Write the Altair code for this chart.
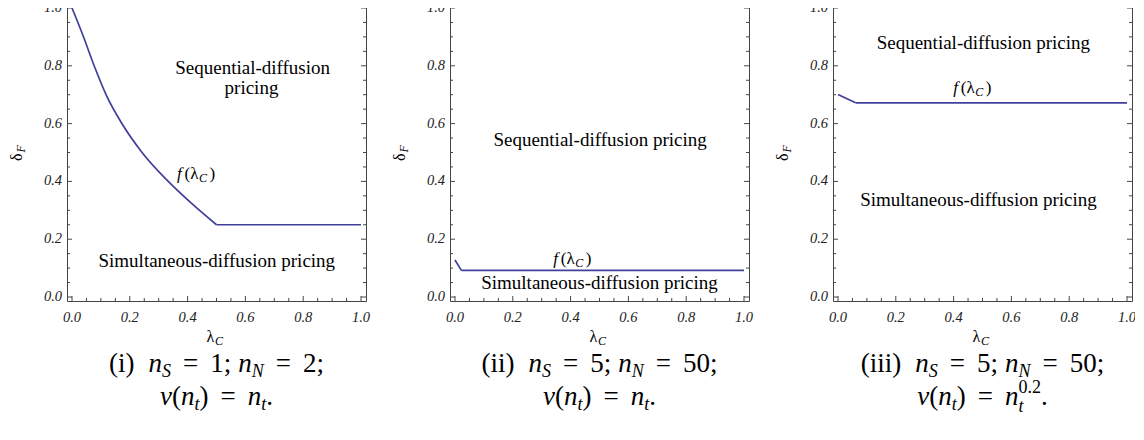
import altair as alt
import pandas as pd

# ---------------- data ----------------
lam1 = [0.0, 0.038, 0.076, 0.119, 0.171, 0.241, 0.327, 0.408, 0.5, 1.0]
del1 = [1.0, 0.905, 0.802, 0.698, 0.603, 0.502, 0.406, 0.329, 0.25, 0.25]
lam2 = [0.0, 0.022, 1.0]
del2 = [0.128, 0.092, 0.092]
lam3 = [0.0, 0.061, 1.0]
del3 = [0.701, 0.672, 0.672]

major_ticks = [0.0, 0.2, 0.4, 0.6, 0.8, 1.0]
tick_labels = ["0.0", "0.2", "0.4", "0.6", "0.8", "1.0"]
minor_ticks = [0.05, 0.1, 0.15, 0.25, 0.3, 0.35, 0.45, 0.5, 0.55, 0.65,
               0.7, 0.75, 0.85, 0.9, 0.95]

seq_label = "Sequential-diffusion"
seq_label2 = "pricing"
seq_full = "Sequential-diffusion pricing"
sim_full = "Simultaneous-diffusion pricing"

# region label anchors (data coordinates, text centre / baseline)
regions1 = [(seq_label, 0.625, 0.773), (seq_label2, 0.621, 0.703), (sim_full, 0.501, 0.104)]
regions2 = [(seq_full, 0.502, 0.522), (sim_full, 0.50, 0.027)]
regions3 = [(seq_full, 0.503, 0.857), (sim_full, 0.486, 0.315)]
flabel_pos = [(0.363, 0.408), (0.34, 0.115), (0.399, 0.707)]

caption_ids = ["(i)", "(ii)", "(iii)"]
caption_nS = ["1", "5", "5"]
caption_nN = ["2", "50", "50"]
caption_vexp = ["", "", "0.2"]

# ---------------- layout constants ----------------
W, H = 299, 298
XD = [-5 / 289, 1 + 5 / 289]
YD = [-4 / 289, 1 + 5 / 289]
SERIF = "Liberation Serif"
FRAME = "#444444"
LINE = "#40409c"
CAP = 27
CAPSUB = 18

RM = {' ': .25, '(': .333, ')': .333, ';': .278, '=': .564, '.': .25, 'i': .278,
      'λ': .5, 'δ': .5}
IT = {'n': .5, 'v': .444, 't': .278, 'f': .278, 'S': .5, 'N': .667, 'C': .667, 'F': .611}


def tw(s, style, size):
    tab = IT if style in ('it', 'sub') else RM
    return sum(tab.get(c, .5) for c in s) * size


def px2x(px):
    return XD[0] + px / W * (XD[1] - XD[0])


def py2y(py):
    return YD[1] - py / H * (YD[1] - YD[0])


GW, GR, GT = 14, 12, 7


def layout_line(tokens, base_y):
    rows = []
    x = 0.0
    last_sub_x = 0.0
    last_sub_w = 0.0
    for tok in tokens:
        if isinstance(tok, (int, float)):
            x += tok
            continue
        text, style = tok
        if style in ('rm', 'it'):
            rows.append(dict(t=text, s=style, px=x, py=base_y))
            x += tw(text, style, CAP)
        elif style == 'sub':
            rows.append(dict(t=text, s='sub', px=x, py=base_y + 5))
            last_sub_x = x
            last_sub_w = tw(text, 'sub', CAPSUB)
            x += last_sub_w
        elif style == 'subx':  # subscript that will carry a superscript
            rows.append(dict(t=text, s='sub', px=x, py=base_y + 7))
            last_sub_x = x
            last_sub_w = tw(text, 'sub', CAPSUB)
            x += last_sub_w
        elif style == 'sup':
            rows.append(dict(t=text, s='sup', px=last_sub_x, py=base_y - 12))
            w = tw(text, 'rm', CAPSUB)
            x = last_sub_x + max(w, last_sub_w)
    total = x
    for r in rows:
        r['px'] += W / 2 - total / 2
    return rows


def caption_rows(i):
    l1 = [(caption_ids[i], 'rm'), GW, ('n', 'it'), ('S', 'sub'), GR, ('=', 'rm'), GR,
          (caption_nS[i] + ';', 'rm'), GT, ('n', 'it'), ('N', 'sub'), GR, ('=', 'rm'), GR,
          (caption_nN[i] + ';', 'rm')]
    l2 = [('v', 'it'), ('(', 'rm'), ('n', 'it'), ('t', 'sub'), (')', 'rm'), GR, ('=', 'rm'), GR,
          ('n', 'it')]
    if caption_vexp[i]:
        l2 += [('t', 'subx'), (caption_vexp[i], 'sup')]
    else:
        l2 += [('t', 'sub')]
    l2 += [('.', 'rm')]
    return layout_line(l1, H + 71) + layout_line(l2, H + 104)


def title_rows():
    rows = []
    x0 = W / 2 - 10
    rows.append(dict(t='λ', s='tl', px=x0, py=H + 41))
    rows.append(dict(t='C', s='tsub', px=x0 + 8.5, py=H + 44))
    rows.append(dict(t='δ', s='tlr', px=-45, py=H / 2 + 9))
    rows.append(dict(t='F', s='tsubr', px=-42, py=H / 2 + 9 - 8.5))
    return rows


STYLES = {
    'rm': dict(fontSize=CAP, fontStyle='normal'),
    'it': dict(fontSize=CAP, fontStyle='italic'),
    'sub': dict(fontSize=CAPSUB, fontStyle='italic'),
    'sup': dict(fontSize=CAPSUB, fontStyle='normal'),
    'tl': dict(fontSize=16, fontStyle='normal'),
    'tsub': dict(fontSize=12, fontStyle='italic'),
    'tlr': dict(fontSize=16, fontStyle='normal', angle=270),
    'tsubr': dict(fontSize=12, fontStyle='italic', angle=270),
}


def panel(lam, dl, regions, idx):
    xs = alt.Scale(domain=XD, nice=False, zero=False)
    ys = alt.Scale(domain=YD, nice=False, zero=False)

    def X(f='x'):
        return alt.X(f + ':Q', scale=xs, axis=None)

    def Y(f='y'):
        return alt.Y(f + ':Q', scale=ys, axis=None)

    layers = []
    # inward frame ticks on all four sides
    for vals, L in [(major_ticks, 5), (minor_ticks, 3)]:
        d = pd.DataFrame({'x': vals, 'y': vals})
        base = alt.Chart(d).mark_rule(color=FRAME, strokeWidth=1)
        layers.append(base.encode(x=X(), y=alt.value(H), y2=alt.value(H - L)))
        layers.append(base.encode(x=X(), y=alt.value(0), y2=alt.value(L)))
        layers.append(base.encode(y=Y(), x=alt.value(0), x2=alt.value(L)))
        layers.append(base.encode(y=Y(), x=alt.value(W), x2=alt.value(W - L)))

    # tick labels
    tl = pd.DataFrame({'x': major_ticks, 'y': major_ticks, 't': tick_labels})
    lab = dict(font=SERIF, fontSize=14.5, fontStyle='italic', color='#222222')
    layers.append(alt.Chart(tl).mark_text(align='center', baseline='alphabetic', **lab)
                  .encode(x=X(), y=alt.value(H + 21), text='t:N'))
    layers.append(alt.Chart(tl).mark_text(align='right', baseline='middle', **lab)
                  .encode(y=Y(), x=alt.value(-5), text='t:N'))

    # the boundary f(lambda_C): a smooth falling part and the flat part after the kink
    kink = 1
    for j in range(1, len(dl)):
        if dl[j] == dl[-1]:
            kink = j
            break
    curve = pd.DataFrame({'x': lam[:kink + 1], 'y': dl[:kink + 1]})
    flat = pd.DataFrame({'x': lam[kink:], 'y': dl[kink:]})
    layers.append(alt.Chart(curve).mark_line(
        color=LINE, strokeWidth=1.7, interpolate='monotone').encode(x=X(), y=Y()))
    layers.append(alt.Chart(flat).mark_line(
        color=LINE, strokeWidth=1.7).encode(x=X(), y=Y()))

    rd = pd.DataFrame({'t': [r[0] for r in regions], 'x': [r[1] for r in regions],
                       'y': [r[2] for r in regions]})
    layers.append(alt.Chart(rd).mark_text(font=SERIF, fontSize=19, align='center',
                                          baseline='alphabetic', color='black')
                  .encode(x=X(), y=Y(), text='t:N'))

    fx, fy = flabel_pos[idx]
    fd = pd.DataFrame({'x': [fx], 'y': [fy]})
    pieces = [('f', 'italic', 17, 0, 0), ('(', 'normal', 17, 7.5, 0), ('λ', 'normal', 17, 13.3, 0),
              ('C', 'italic', 12, 22.0, 3), (')', 'normal', 17, 32.5, 0)]
    for t, st, fs, dx, dy in pieces:
        layers.append(alt.Chart(fd).mark_text(text=t, font=SERIF, fontSize=fs, fontStyle=st,
                                              align='left', baseline='alphabetic', dx=dx, dy=dy,
                                              color='black')
                      .encode(x=X(), y=Y()))

    rows = caption_rows(idx) + title_rows()
    df = pd.DataFrame(rows)
    df['x'] = df['px'].map(px2x)
    df['y'] = df['py'].map(py2y)
    for st, props in STYLES.items():
        sub = df[df['s'] == st][['t', 'x', 'y']]
        if len(sub) == 0:
            continue
        layers.append(alt.Chart(sub).mark_text(font=SERIF, align='left', baseline='alphabetic',
                                               color='black', **props)
                      .encode(x=X(), y=Y(), text='t:N'))
    return alt.layer(*layers).properties(width=W, height=H)


p1 = panel(lam1, del1, regions1, 0)
p2 = panel(lam2, del2, regions2, 1)
p3 = panel(lam3, del3, regions3, 2)

chart = alt.hconcat(p1, p2, p3, spacing=20).configure_view(
    stroke=FRAME, strokeWidth=1).properties(
    padding={"left": 0, "top": -9, "right": -2, "bottom": 0})

chart.save("out.html", embed_options={"renderer": "svg", "actions": False})
